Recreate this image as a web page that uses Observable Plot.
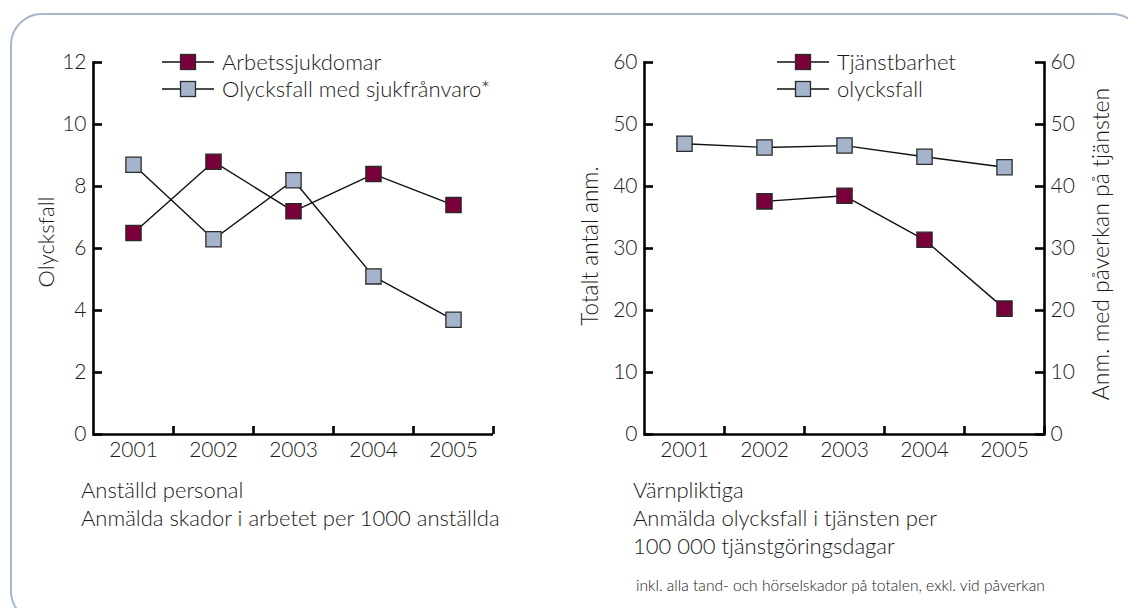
<!DOCTYPE html>
<html><head><meta charset="utf-8">
<script src="https://cdn.jsdelivr.net/npm/d3@7"></script>
<script src="https://cdn.jsdelivr.net/npm/@observablehq/plot@0.6"></script>
<style>
body{margin:0;background:#fff;font-family:Lato,sans-serif;font-weight:300;color:#1a1a1a;}
#wrap{position:relative;width:1128px;height:608px;overflow:hidden;background:#fff;}
#box{position:absolute;left:10px;top:13px;width:1134px;height:610px;border:2.5px solid #a8b7cd;border-radius:32px;box-sizing:border-box;}
.plot{position:absolute;top:0;}
.legend{position:absolute;font-size:22px;line-height:27px;}
.legend div{display:flex;align-items:center;height:27px;}
.legend svg{margin-right:8px;}
.note{position:absolute;font-size:22px;line-height:28px;white-space:nowrap;}
.small{position:absolute;font-size:15.6px;white-space:nowrap;}
.ylab{position:absolute;white-space:nowrap;transform:translate(-50%,-50%) rotate(-90deg);line-height:1;}
</style></head>
<body><div id="wrap"><div id="box"></div></div>
<script>
const years = ["2001","2002","2003","2004","2005"];
const arbetssjukdomar = [6.5, 8.8, 7.2, 8.4, 7.4];
const olycksfallSjuk = [8.7, 6.3, 8.2, 5.1, 3.7];
const tjanstbarhet = [null, 37.6, 38.5, 31.4, 20.3];
const olycksfallVarn = [46.9, 46.3, 46.6, 44.8, 43.1];
const leftTicks = [0,2,4,6,8,10,12];
const rightTicks = [0,10,20,30,40,50,60];
const maroon = "#7a003c", grey = "#a4b4ca";

const rows = (vals) => years.map((y,i)=>({year:y, value:vals[i]})).filter(d=>d.value!=null);
const wrap = document.getElementById("wrap");
const font = {fontFamily:"Lato, sans-serif", fontWeight:300, fontSize:"21px", color:"#1a1a1a", background:"transparent", overflow:"visible"};

function chart({width, marginLeft, marginRight, domain, ticks, series, twoSided}) {
  const frameW = width - marginLeft - marginRight;
  const frameH = 434 - 62;
  const marks = [
    Plot.axisX({tickSize:0, tickPadding:8, label:null}),
    Plot.axisY({anchor:"left", ticks, tickSize:0, tickPadding:7, tickFormat:d=>d, label:null}),
    Plot.frame({anchor:"left", strokeWidth:2.6, stroke:"#000"}),
    Plot.ruleY([0], {strokeWidth:2.6, stroke:"#000"}),
    Plot.tickY(ticks, {y:d=>d, insetRight:frameW-9, strokeWidth:2.6, stroke:"#000"}),
    Plot.tickX(years, {x:d=>d, dx:frameW/10, insetTop:frameH-8, strokeWidth:2.6, stroke:"#000"})
  ];
  if (twoSided) {
    marks.push(
      Plot.axisY({anchor:"right", ticks, tickSize:0, tickPadding:6, tickFormat:d=>d, label:null}),
      Plot.frame({anchor:"right", strokeWidth:2.6, stroke:"#000"}),
      Plot.tickY(ticks, {y:d=>d, insetLeft:frameW-9, strokeWidth:2.6, stroke:"#000"})
    );
  }
  for (const s of series) marks.push(Plot.lineY(rows(s.values), {x:"year", y:"value", stroke:"#111", strokeWidth:1.4}));
  for (const s of series) marks.push(Plot.dot(rows(s.values), {x:"year", y:"value", symbol:"square", r:8.6, fill:s.color, stroke:"#2a2a2a", strokeWidth:1.3}));
  return Plot.plot({
    width, height:470, marginLeft, marginRight, marginTop:62, marginBottom:36,
    x:{type:"band", domain:years, padding:0},
    y:{domain, range:[434, 62]},
    style:font,
    marks
  });
}

const left = chart({width:560, marginLeft:93, marginRight:67, domain:[0,12], ticks:leftTicks,
  series:[{values:arbetssjukdomar,color:maroon},{values:olycksfallSjuk,color:grey}]});
left.classList.add("plot"); left.style.left="0px";
wrap.appendChild(left);

const right = chart({width:588, marginLeft:104, marginRight:84, domain:[0,60], ticks:rightTicks,
  series:[{values:tjanstbarhet,color:maroon},{values:olycksfallVarn,color:grey}], twoSided:true});
right.classList.add("plot"); right.style.left="540px";
wrap.appendChild(right);

function ylab(x, y, size, t){
  const d = document.createElement("div");
  d.className="ylab"; d.style.left=x+"px"; d.style.top=y+"px"; d.style.fontSize=size+"px"; d.textContent=t;
  wrap.appendChild(d);
}
ylab(46, 242, 22, "Olycksfall");
ylab(590, 246, 22.5, "Totalt antal anm.");
ylab(1100, 244, 23, "Anm. med påverkan på tjänsten");

function swatch(color){
  return `<svg width="52" height="18"><line x1="0" x2="52" y1="9" y2="9" stroke="#111" stroke-width="1.4"/><rect x="18.5" y="1.5" width="15" height="15" fill="${color}" stroke="#2a2a2a" stroke-width="1.3"/></svg>`;
}
function legend(x, y, items){
  const d = document.createElement("div");
  d.className="legend"; d.style.left=x+"px"; d.style.top=y+"px";
  d.innerHTML = items.map(([t,c])=>`<div>${swatch(c)}<span>${t}</span></div>`).join("");
  wrap.appendChild(d);
}
legend(162, 48, [["Arbetssjukdomar",maroon],["Olycksfall med sjukfrånvaro*",grey]]);
legend(777, 48, [["Tjänstbarhet",maroon],["olycksfall",grey]]);

function note(x, y, lines, cls="note"){
  const d = document.createElement("div");
  d.className=cls; d.style.left=x+"px"; d.style.top=y+"px";
  d.innerHTML = lines.join("<br>");
  wrap.appendChild(d);
}
note(81, 476, ["Anställd personal","Anmälda skador i arbetet per 1000 anställda"]);
note(633, 476, ["Värnpliktiga","Anmälda olycksfall i tjänsten per","100 000 tjänstgöringsdagar"]);
note(636, 576, ["inkl. alla tand- och hörselskador på totalen, exkl. vid påverkan"], "small");
</script></body></html>
